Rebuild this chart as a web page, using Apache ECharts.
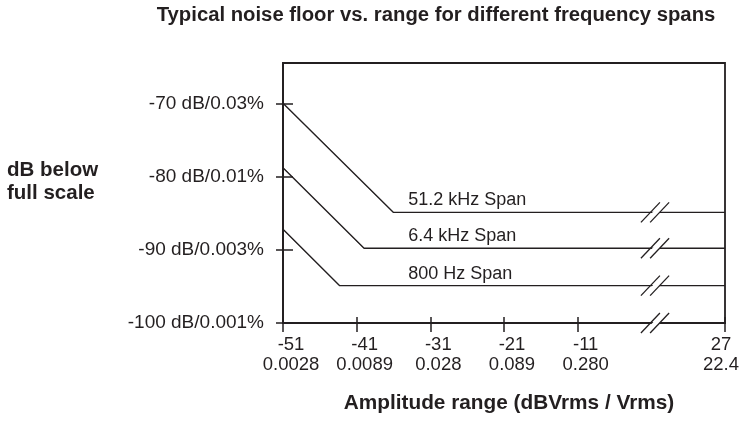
<!DOCTYPE html>
<html>
<head>
<meta charset="utf-8">
<title>Typical noise floor vs. range</title>
<script src="https://cdn.jsdelivr.net/npm/echarts@6.0.0/dist/echarts.min.js"></script>
<style>
  html, body { margin: 0; padding: 0; background: #fff; }
  #chart { width: 739px; height: 421px; }
</style>
</head>
<body>
<div id="chart"></div>
<script>
// x ticks: amplitude range in dBVrms, with the matching Vrms under each
var ampDbv  = [-51, -41, -31, -21, -11, 27]
var ampVrms = ['0.0028', '0.0089', '0.028', '0.089', '0.280', '22.4']

// y ticks: dB below full scale / percent
var levelDb  = [-100, -90, -80, -70]
var levelPct = ['0.001%', '0.003%', '0.01%', '0.03%']

// noise floor curves, [dBVrms, dB]
var spanNames = ['51.2 kHz Span', '6.4 kHz Span', '800 Hz Span']
var span51k   = [[-51, -70], [-36, -84.9], [27, -84.9]]
var span6k    = [[-51, -78.8], [-40, -89.8], [27, -89.8]]
var span800   = [[-51, -87.2], [-43.3, -94.9], [27, -94.9]]
var spanFloor = [-84.9, -89.8, -94.9]
var labelAt   = -34		// where the span names start

// axis break (the // marks)
var breakFrom = -0.5
var breakTo   = 17.5

var ink  = '#231f20'
var font = "'Liberation Sans', Arial, sans-serif"

var chart = echarts.init(document.getElementById('chart'), null, { renderer: 'canvas' })

function xLabel(v) {
	var i = ampDbv.indexOf(v)
	if (i < 0) return ''
	var st = i == ampDbv.length - 1 ? 'e' : 'n'
	return '{' + st + '|' + v + '}\n{' + st + '|' + ampVrms[i] + '}'
}

function yLabel(v) {
	var i = levelDb.indexOf(v)
	if (i < 0) return ''
	return v + ' dB/' + levelPct[i]
}

// break marks sit on every floor line and on the bottom axis
var breakMarks = spanFloor.map(function (y) { return [breakFrom, y] })
breakMarks.push([breakFrom, levelDb[0]])

var labelPoints = spanFloor.map(function (y, i) { return [labelAt, y, spanNames[i]] })

function lineSeries(name, data) {
	return {
		name: name,
		type: 'line',
		data: data,
		showSymbol: false,
		silent: true,
		lineStyle: { color: ink, width: 1.4 },
		z: 3
	}
}

var xBase = {
	type: 'value',
	min: ampDbv[0],
	max: ampDbv[ampDbv.length - 1],
	position: 'bottom',
	breaks: [{ start: breakFrom, end: breakTo, gap: 0 }],
	breakArea: { show: false },
	splitLine: { show: false }
}

var yBase = {
	type: 'value',
	min: -100,
	max: -64.5,
	position: 'left',
	splitLine: { show: false }
}

var option = {
	animation: false,
	backgroundColor: '#fff',
	title: [{
		text: 'Typical noise floor vs. range for different frequency spans',
		left: 436,
		top: 5,
		padding: 0,
		textAlign: 'center',
		textStyle: { fontFamily: font, fontWeight: 'bold', fontSize: 20.3, color: ink }
	}, {
		text: 'dB below\nfull scale',
		left: 7,
		top: 159,
		padding: 0,
		textStyle: { fontFamily: font, fontWeight: 'bold', fontSize: 20.5, lineHeight: 23, color: ink }
	}],
	grid: {
		left: 283,
		right: 14,
		top: 63,
		bottom: 98,
		outerBoundsMode: 'none',
		show: true,
		borderColor: ink,
		borderWidth: 1.8
	},
	xAxis: [Object.assign({}, xBase, {
		axisLine: { show: true, onZero: false, lineStyle: { color: ink, width: 1.8 } },
		axisTick: { show: true, customValues: ampDbv, length: 9, lineStyle: { color: ink, width: 1.5 } },
		axisLabel: {
			customValues: ampDbv,
			showMinLabel: true,
			showMaxLabel: true,
			formatter: xLabel,
			margin: 12,
			rich: {
				n: { fontFamily: font, fontSize: 18.5, lineHeight: 20, color: ink, padding: [0, 0, 0, 16] },
				e: { fontFamily: font, fontSize: 18.5, lineHeight: 20, color: ink, padding: [0, 8, 0, 0] }
			}
		},
		name: 'Amplitude range (dBVrms / Vrms)',
		nameLocation: 'middle',
		nameGap: 70,
		nameTextStyle: { fontFamily: font, fontWeight: 'bold', fontSize: 20.8, color: ink, padding: [0, 0, 0, 10] }
	}), Object.assign({}, xBase, {
		axisLine: { show: false, onZero: false },
		axisTick: { show: true, inside: true, customValues: ampDbv, length: 6, lineStyle: { color: ink, width: 1.5 } },
		axisLabel: { show: false }
	})],
	yAxis: [Object.assign({}, yBase, {
		axisLine: { show: true, onZero: false, lineStyle: { color: ink, width: 1.8 } },
		axisTick: { show: true, customValues: levelDb, length: 7, lineStyle: { color: ink, width: 1.5 } },
		axisLabel: {
			customValues: levelDb,
			formatter: yLabel,
			margin: 19,
			fontFamily: font,
			fontSize: 19,
			color: ink
		}
	}), Object.assign({}, yBase, {
		axisLine: { show: false, onZero: false },
		axisTick: { show: true, inside: true, customValues: levelDb, length: 10, lineStyle: { color: ink, width: 1.5 } },
		axisLabel: { show: false }
	})],
	series: [
		lineSeries(spanNames[0], span51k),
		lineSeries(spanNames[1], span6k),
		lineSeries(spanNames[2], span800),
		{
			// span names, just above each floor
			type: 'scatter',
			data: labelPoints,
			symbolSize: 0,
			silent: true,
			itemStyle: { opacity: 1 },
			label: {
				show: true,
				position: [0, -12],
				align: 'left',
				verticalAlign: 'middle',
				formatter: function (p) { return p.data[2] },
				fontFamily: font,
				fontSize: 18,
				color: ink,
				opacity: 1
			},
			z: 4
		},
		{
			// double slash break marks
			type: 'custom',
			data: breakMarks,
			silent: true,
			clip: false,
			z: 5,
			renderItem: function (params, api) {
				var p = api.coord([api.value(0), api.value(1)])
				var cx = p[0], cy = p[1]
				var o = 4.6, hx = 9.5, hy = 10
				return {
					type: 'group',
					children: [{
						type: 'polygon',
						shape: { points: [[cx - o - hx + 2, cy + hy], [cx + o - hx, cy + hy], [cx + o + hx, cy - hy], [cx - o + hx + 2, cy - hy]] },
						style: { fill: '#fff' }
					}, {
						type: 'line',
						shape: { x1: cx - o - hx, y1: cy + hy, x2: cx - o + hx, y2: cy - hy },
						style: { stroke: ink, lineWidth: 1.3 }
					}, {
						type: 'line',
						shape: { x1: cx + o - hx, y1: cy + hy, x2: cx + o + hx, y2: cy - hy },
						style: { stroke: ink, lineWidth: 1.3 }
					}]
				}
			}
		}
	]
}

chart.setOption(option)
</script>
</body>
</html>
